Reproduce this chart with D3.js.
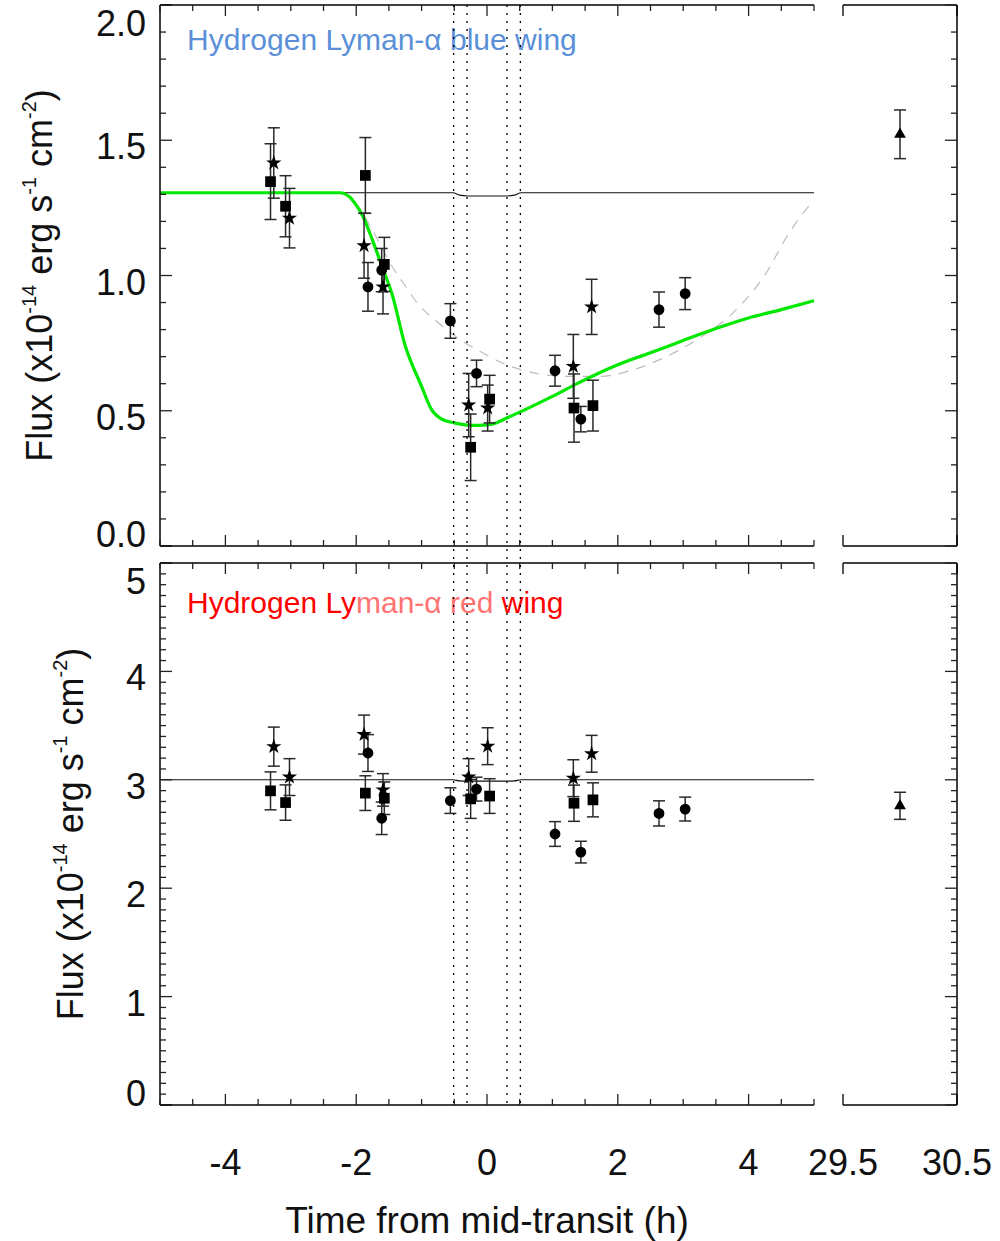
<!DOCTYPE html>
<html>
<head>
<meta charset="utf-8">
<script src="https://cdn.jsdelivr.net/npm/d3@7"></script>
<style>
  html, body { margin: 0; padding: 0; background: #fff; }
  svg { display: block; }
</style>
</head>
<body>
<svg id="chart" width="1000" height="1241"></svg>
<script>
// ---------------- DATA ----------------
// Top panel (blue wing) observations, x = time from mid-transit (h)
const squareX = [-3.31, -3.08, -1.86, -1.57, -0.25, 0.04, 1.33, 1.62];
const starX   = [-3.26, -3.02, -1.88, -1.59, -0.28, 0.01, 1.32, 1.60];
const circleX = [-1.82, -1.61, -0.56, -0.16, 1.04, 1.435, 2.63, 3.03];

const blueSquareY = [1.347, 1.256, 1.370, 1.041, 0.365, 0.543, 0.510, 0.519];
const blueSquareE = [0.140, 0.113, 0.140, 0.100, 0.123, 0.088, 0.126, 0.094];
const blueStarY   = [1.416, 1.212, 1.110, 0.958, 0.521, 0.510, 0.664, 0.884];
const blueStarE   = [0.130, 0.110, 0.120, 0.100, 0.117, 0.085, 0.118, 0.102];
const blueCircleY = [0.958, 1.020, 0.832, 0.638, 0.648, 0.469, 0.874, 0.933];
const blueCircleE = [0.090, 0.080, 0.064, 0.049, 0.057, 0.047, 0.065, 0.059];
const blueTriX = [30.0], blueTriY = [1.522], blueTriE = [0.090];

// Bottom panel (red wing) observations
const redSquareY = [2.898, 2.790, 2.877, 2.830, 2.824, 2.850, 2.784, 2.815];
const redSquareE = [0.175, 0.163, 0.160, 0.150, 0.180, 0.160, 0.167, 0.157];
const redStarY   = [3.306, 3.025, 3.417, 2.907, 3.025, 3.310, 3.015, 3.240];
const redStarE   = [0.180, 0.170, 0.180, 0.150, 0.170, 0.170, 0.170, 0.170];
const redCircleY = [3.247, 2.645, 2.808, 2.914, 2.500, 2.333, 2.690, 2.730];
const redCircleE = [0.170, 0.150, 0.118, 0.110, 0.114, 0.100, 0.116, 0.110];
const redTriX = [30.0], redTriY = [2.76], redTriE = [0.125];

// Model curves
const flatModelX = [-5, -0.52, -0.42, -0.30, 0.30, 0.42, 0.52, 5];
const flatModelBlueY = [1.306, 1.306, 1.297, 1.294, 1.294, 1.297, 1.306, 1.306];
const flatModelRedY  = [3.000, 3.000, 2.990, 2.988, 2.988, 2.990, 3.000, 3.000];

const greenX = [-5, -2.25, -2.1, -2.0, -1.9, -1.75, -1.6, -1.45, -1.25, -1.0, -0.85, -0.7, -0.5, -0.25, 0, 0.15, 0.3, 0.6, 1.0, 1.4, 2.0, 2.5, 3.0, 3.5, 4.0, 4.5, 5.0];
const greenY = [1.306, 1.306, 1.29, 1.26, 1.22, 1.13, 1.03, 0.93, 0.74, 0.59, 0.505, 0.47, 0.455, 0.446, 0.448, 0.456, 0.473, 0.506, 0.553, 0.603, 0.670, 0.714, 0.760, 0.804, 0.843, 0.874, 0.907];

const greyX = [-5, -2.25, -2.1, -1.95, -1.73, -1.43, -1.23, -1.07, -0.77, -0.41, -0.11, 0.3, 0.71, 1.22, 1.73, 2.24, 2.74, 3.25, 3.76, 4.27, 4.6, 4.8, 5.0];
const greyY = [1.306, 1.306, 1.29, 1.25, 1.158, 1.025, 0.955, 0.899, 0.831, 0.763, 0.720, 0.670, 0.640, 0.627, 0.627, 0.652, 0.700, 0.769, 0.862, 1.010, 1.150, 1.220, 1.280];

// Transit contact times (dotted lines)
const contactX = [-0.51, -0.305, 0.305, 0.51];

// Ticks & labels
const xTicks = [-4, -2, 0, 2, 4];
const xTickLabels = ["-4", "-2", "0", "2", "4"];
const xSideTicks = [29.5, 30.5];
const xSideTickLabels = ["29.5", "30.5"];
const yTopTicks = [0, 0.5, 1.0, 1.5, 2.0];
const yTopTickLabels = ["0.0", "0.5", "1.0", "1.5", "2.0"];
const yBotTicks = [0, 1, 2, 3, 4, 5];
const yBotTickLabels = ["0", "1", "2", "3", "4", "5"];

// ---------------- CHART ----------------
const FONT = "'Liberation Sans', Arial, Helvetica, sans-serif";
const svg = d3.select("#chart");

const L = 160, R = 814, SL = 843, SR = 957;
const xMain = d3.scaleLinear().domain([-5, 5]).range([L, R]);
const xSide = d3.scaleLinear().domain([29.5, 30.5]).range([SL, SR]);

const panels = [
  { top: 5, bottom: 546, y: d3.scaleLinear().domain([0, 2]).range([546, 5]),
    ticks: yTopTicks, labels: yTopTickLabels, minorStep: 0.1, max: 2,
    title: [["Hydrogen Lyman-α blue wing", "#5b90d8"]], titleY: 50,
    ytitleX: 52,
    flatY: flatModelBlueY,
    sq: [blueSquareY, blueSquareE], st: [blueStarY, blueStarE], ci: [blueCircleY, blueCircleE],
    tri: [blueTriX, blueTriY, blueTriE], model: true },
  { top: 563, bottom: 1105, y: d3.scaleLinear().domain([0, 5]).range([1105, 563]),
    ticks: yBotTicks, labels: yBotTickLabels, minorStep: 0.1, max: 5,
    title: [["Hydrogen Ly", "#ff0000"], ["man-α red", "#ff7373"], [" wing", "#ff0000"]], titleY: 613,
    ytitleX: 83,
    flatY: flatModelRedY,
    sq: [redSquareY, redSquareE], st: [redStarY, redStarE], ci: [redCircleY, redCircleE],
    tri: [redTriX, redTriY, redTriE], model: false }
];

const axisCol = "#000";
const tickCol = "#222";

function range(a, b, s) { const r = []; for (let v = a; v <= b + 1e-9; v += s) r.push(+v.toFixed(6)); return r; }

panels.forEach((p, pi) => {
  const g = svg.append("g");
  const y = p.y;

  // ----- model curves -----
  const line = d3.line().x(d => xMain(d[0])).y(d => y(d[1]));
  if (p.model) {
    g.append("path").datum(greyX.map((v, i) => [v, greyY[i]]))
      .attr("d", line.curve(d3.curveMonotoneX))
      .attr("fill", "none").attr("stroke", "#bdbdbd").attr("stroke-width", 1.2)
      .attr("stroke-dasharray", "10,8");
  }
  g.append("path").datum(flatModelX.map((v, i) => [v, p.flatY[i]]))
    .attr("d", d3.line().x(d => xMain(d[0])).y(d => y(d[1])).curve(d3.curveMonotoneX))
    .attr("fill", "none").attr("stroke", "#111").attr("stroke-width", 1.1);
  if (p.model) {
    g.append("path").datum(greenX.map((v, i) => [v, greenY[i]]))
      .attr("d", d3.line().x(d => xMain(d[0])).y(d => y(d[1])).curve(d3.curveMonotoneX))
      .attr("fill", "none").attr("stroke", "#00e800").attr("stroke-width", 3.2);
  }

  // ----- axes of main panel -----
  g.append("line").attr("x1", L).attr("x2", L).attr("y1", p.top).attr("y2", p.bottom)
    .attr("stroke", axisCol).attr("stroke-width", 1.5);
  range(0, p.max, p.minorStep).forEach(v => {
    const major = p.ticks.some(t => Math.abs(t - v) < 1e-6);
    g.append("line").attr("x1", L).attr("x2", L + (major ? 12 : 6))
      .attr("y1", y(v)).attr("y2", y(v)).attr("stroke", tickCol).attr("stroke-width", 1.3);
  });
  [p.top, p.bottom].forEach((yy, k) => {
    g.append("line").attr("x1", L).attr("x2", R).attr("y1", yy).attr("y2", yy)
      .attr("stroke", axisCol).attr("stroke-width", 1.5);
    const dir = k === 0 ? 1 : -1;
    range(-5, 5, 0.5).forEach(v => {
      const major = xTicks.includes(v);
      g.append("line").attr("x1", xMain(v)).attr("x2", xMain(v))
        .attr("y1", yy).attr("y2", yy + dir * (major ? 11 : 6))
        .attr("stroke", tickCol).attr("stroke-width", 1.3);
    });
  });

  // ----- side panel axes -----
  [p.top, p.bottom].forEach((yy, k) => {
    g.append("line").attr("x1", SL).attr("x2", SR).attr("y1", yy).attr("y2", yy)
      .attr("stroke", axisCol).attr("stroke-width", 1.5);
    const dir = k === 0 ? 1 : -1;
    xSideTicks.forEach(v => {
      g.append("line").attr("x1", xSide(v)).attr("x2", xSide(v))
        .attr("y1", yy).attr("y2", yy + dir * 11)
        .attr("stroke", tickCol).attr("stroke-width", 1.5);
    });
  });
  g.append("line").attr("x1", SR).attr("x2", SR).attr("y1", p.top).attr("y2", p.bottom)
    .attr("stroke", axisCol).attr("stroke-width", 1.5);
  range(0, p.max, p.minorStep).forEach(v => {
    const major = p.ticks.some(t => Math.abs(t - v) < 1e-6);
    g.append("line").attr("x1", SR).attr("x2", SR - (major ? 12 : 6))
      .attr("y1", y(v)).attr("y2", y(v)).attr("stroke", tickCol).attr("stroke-width", 1.3);
  });

  // ----- y tick labels -----
  p.ticks.forEach((v, i) => {
    let c = y(v) + 6;
    c = Math.max(c, p.top + 18);
    c = Math.min(c, p.bottom - 12);
    g.append("text").attr("x", 146).attr("y", c + 13)
      .attr("text-anchor", "end").attr("font-family", FONT).attr("font-size", 36)
      .attr("fill", "#111").text(p.labels[i]);
  });

  // ----- y axis title -----
  const cy = (p.top + p.bottom) / 2;
  const yt = g.append("text")
    .attr("transform", `translate(${p.ytitleX},${cy}) rotate(-90)`)
    .attr("text-anchor", "middle").attr("font-family", FONT).attr("font-size", 36).attr("fill", "#111");
  yt.append("tspan").text("Flux (x10");
  yt.append("tspan").attr("font-size", 20).attr("dy", -16).text("-14");
  yt.append("tspan").attr("dy", 16).text(" erg s");
  yt.append("tspan").attr("font-size", 20).attr("dy", -16).text("-1");
  yt.append("tspan").attr("dy", 16).text(" cm");
  yt.append("tspan").attr("font-size", 20).attr("dy", -16).text("-2");
  yt.append("tspan").attr("dy", 16).text(")");

  // ----- panel title -----
  const tt = g.append("text").attr("x", 187).attr("y", p.titleY)
    .attr("font-family", FONT).attr("font-size", 30);
  p.title.forEach(([s, c]) => tt.append("tspan").attr("fill", c).text(s));

  // ----- error bars and symbols -----
  const ebCol = "#2a2a2a";
  function errbars(xs, ys, es, xsc) {
    xs.forEach((xv, i) => {
      const X = xsc(xv), y1 = y(ys[i] - es[i]), y2 = y(ys[i] + es[i]);
      g.append("line").attr("x1", X).attr("x2", X).attr("y1", y1).attr("y2", y2)
        .attr("stroke", ebCol).attr("stroke-width", 1.5);
      [y1, y2].forEach(yy => g.append("line").attr("x1", X - 6).attr("x2", X + 6)
        .attr("y1", yy).attr("y2", yy).attr("stroke", ebCol).attr("stroke-width", 1.5));
    });
  }
  function symbols(xs, ys, type, size, xsc) {
    xs.forEach((xv, i) => {
      g.append("path").attr("d", d3.symbol().type(type).size(size)())
        .attr("transform", `translate(${xsc(xv)},${y(ys[i])})`)
        .attr("fill", "#000");
    });
  }
  errbars(circleX, p.ci[0], p.ci[1], xMain);
  errbars(starX, p.st[0], p.st[1], xMain);
  errbars(squareX, p.sq[0], p.sq[1], xMain);
  errbars(p.tri[0], p.tri[1], p.tri[2], xSide);
  symbols(circleX, p.ci[0], d3.symbolCircle, 92, xMain);
  symbols(starX, p.st[0], d3.symbolStar, 72, xMain);
  symbols(squareX, p.sq[0], d3.symbolSquare, 115, xMain);
  symbols(p.tri[0], p.tri[1], d3.symbolTriangle, 60, xSide);
});

// ----- dotted contact lines spanning both panels -----
contactX.forEach(v => {
  svg.append("line").attr("x1", xMain(v)).attr("x2", xMain(v)).attr("y1", 5).attr("y2", 1105)
    .attr("stroke", "#000").attr("stroke-width", 1.3).attr("stroke-dasharray", "2,6");
});

// ----- x tick labels -----
xTicks.forEach((v, i) => {
  svg.append("text").attr("x", xMain(v)).attr("y", 1175).attr("text-anchor", "middle")
    .attr("font-family", FONT).attr("font-size", 36).attr("fill", "#111").text(xTickLabels[i]);
});
xSideTicks.forEach((v, i) => {
  svg.append("text").attr("x", xSide(v)).attr("y", 1175).attr("text-anchor", "middle")
    .attr("font-family", FONT).attr("font-size", 36).attr("fill", "#111").text(xSideTickLabels[i]);
});

// ----- x axis title -----
svg.append("text").attr("x", 487).attr("y", 1233).attr("text-anchor", "middle")
  .attr("font-family", FONT).attr("font-size", 37).attr("fill", "#111")
  .text("Time from mid-transit (h)");
</script>
</body>
</html>
